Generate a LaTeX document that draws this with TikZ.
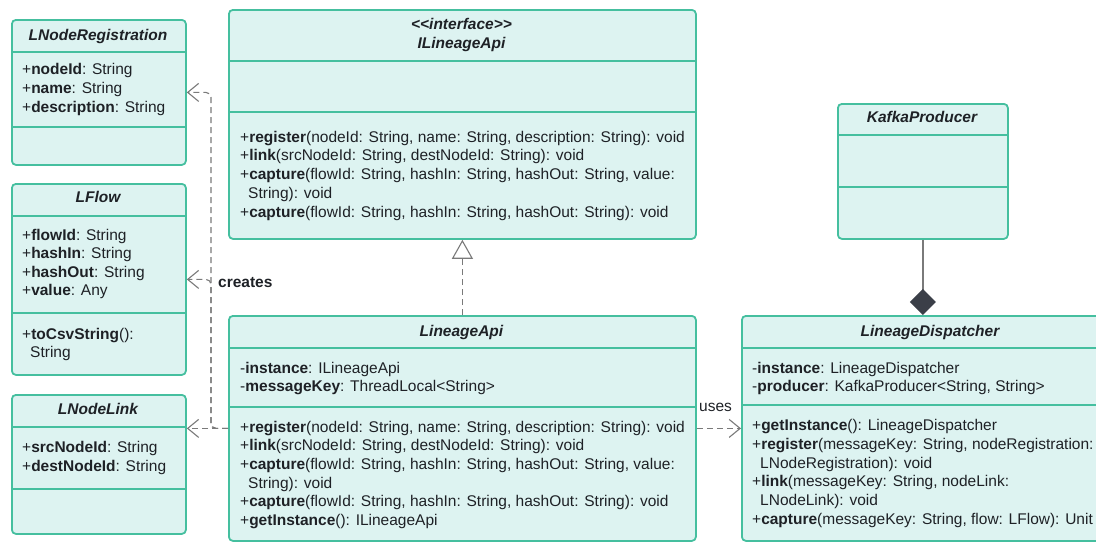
\documentclass[tikz,border=0pt]{standalone}
\usepackage{fontspec}
\setmainfont{Liberation Sans}
\usetikzlibrary{arrows.meta}
\definecolor{umlborder}{HTML}{45BF9F}
\definecolor{umlfill}{HTML}{DDF3F1}
\definecolor{ink}{HTML}{1E2126}
\definecolor{wire}{HTML}{7A7A7A}
\definecolor{knob}{HTML}{3B3F48}
\newcommand\mb[1]{\textbf{#1}}
\tikzset{
  classbox/.style={draw=umlborder, fill=umlfill, line width=1.8pt, rounded corners=4pt,
    inner sep=0pt, anchor=north west},
  divider/.style={draw=umlborder, line width=1.8pt},
  ctitle/.style={font=\fontsize{15.5}{18.7}\selectfont\bfseries\itshape, text=ink, anchor=base, inner sep=0pt},
  member/.style={text=ink, anchor=base west, inner sep=0pt},
  deparrow/.style={draw=wire, line width=1.1pt, dash pattern=on 6pt off 4pt,
    -{Straight Barb[length=11pt,width=18pt,line width=1.1pt]}},
  realarrow/.style={draw=wire, line width=1.1pt, dash pattern=on 6pt off 4pt,
    -{Triangle[length=19pt,width=21pt,fill=white,line width=1.1pt]}},
  comparrow/.style={draw=wire, line width=1.3pt,
    -{Diamond[length=26pt,width=26pt,fill=knob,color=knob]}},
  lbl/.style={text=ink, anchor=base, inner sep=0pt},
}
\begin{document}
\begin{tikzpicture}[x=1pt, y=-1pt, font=\fontsize{15.5}{18.7}\selectfont]
\useasboundingbox (0,0) rectangle (1096,542);

% ---------- LNodeRegistration ----------
\node[classbox, minimum width=174pt, minimum height=145pt] (reg) at (11,19) {};
\draw[divider] (11,52) -- (185,52);
\draw[divider] (11,127) -- (185,127);
\node[ctitle] (reg-t) at (98,40) {LNodeRegistration};
\node[member] (reg-a1) at (22,74) {+\mb{nodeId}: String};
\node[member] (reg-a2) at (22,93) {+\mb{name}: String};
\node[member] (reg-a3) at (22,112) {+\mb{description}: String};

% ---------- LFlow ----------
\node[classbox, minimum width=174pt, minimum height=191pt] (flow) at (11,183) {};
\draw[divider] (11,216) -- (185,216);
\draw[divider] (11,313) -- (185,313);
\node[ctitle] (flow-t) at (98,202) {LFlow};
\node[member] (flow-a1) at (22,240) {+\mb{flowId}: String};
\node[member] (flow-a2) at (22,258) {+\mb{hashIn}: String};
\node[member] (flow-a3) at (22,277) {+\mb{hashOut}: String};
\node[member] (flow-a4) at (22,295) {+\mb{value}: Any};
\node[member] (flow-m1) at (22,339) {+\mb{toCsvString}():};
\node[member] (flow-m2) at (30,357) {String};

% ---------- LNodeLink ----------
\node[classbox, minimum width=174pt, minimum height=139pt] (link) at (11,394) {};
\draw[divider] (11,427) -- (185,427);
\draw[divider] (11,489) -- (185,489);
\node[ctitle] (link-t) at (98,414) {LNodeLink};
\node[member] (link-a1) at (22,452) {+\mb{srcNodeId}: String};
\node[member] (link-a2) at (22,471) {+\mb{destNodeId}: String};

% ---------- ILineageApi ----------
\node[classbox, minimum width=467pt, minimum height=229pt] (ilapi) at (228,9) {};
\draw[divider] (228,61) -- (695,61);
\draw[divider] (228,112) -- (695,112);
\node[ctitle] (ilapi-s) at (461.5,29) {<{}<interface>{}>};
\node[ctitle] (ilapi-t) at (461.5,48) {ILineageApi};
\node[member] (ilapi-m1) at (240,142) {+\mb{register}(nodeId: String, name: String, description: String): void};
\node[member] (ilapi-m2) at (240,160) {+\mb{link}(srcNodeId: String, destNodeId: String): void};
\node[member] (ilapi-m3) at (240,179) {+\mb{capture}(flowId: String, hashIn: String, hashOut: String, value:};
\node[member] (ilapi-m4) at (248,198) {String): void};
\node[member] (ilapi-m5) at (240,217) {+\mb{capture}(flowId: String, hashIn: String, hashOut: String): void};

% ---------- LineageApi ----------
\node[classbox, minimum width=467pt, minimum height=225pt] (lapi) at (228,315) {};
\draw[divider] (228,348) -- (695,348);
\draw[divider] (228,407) -- (695,407);
\node[ctitle] (lapi-t) at (461.5,336) {LineageApi};
\node[member] (lapi-a1) at (240,373) {-\mb{instance}: ILineageApi};
\node[member] (lapi-a2) at (240,391) {-\mb{messageKey}: ThreadLocal<String>};
\node[member] (lapi-m1) at (240,432) {+\mb{register}(nodeId: String, name: String, description: String): void};
\node[member] (lapi-m2) at (240,450) {+\mb{link}(srcNodeId: String, destNodeId: String): void};
\node[member] (lapi-m3) at (240,469) {+\mb{capture}(flowId: String, hashIn: String, hashOut: String, value:};
\node[member] (lapi-m4) at (248,488) {String): void};
\node[member] (lapi-m5) at (240,506) {+\mb{capture}(flowId: String, hashIn: String, hashOut: String): void};
\node[member] (lapi-m6) at (240,525) {+\mb{getInstance}(): ILineageApi};

% ---------- KafkaProducer ----------
\node[classbox, minimum width=170pt, minimum height=135pt] (kafka) at (837,103) {};
\draw[divider] (837,135) -- (1007,135);
\draw[divider] (837,187) -- (1007,187);
\node[ctitle] (kafka-t) at (922,122) {KafkaProducer};

% ---------- LineageDispatcher ----------
\node[classbox, minimum width=378pt, minimum height=225pt] (disp) at (741,315) {};
\draw[divider] (741,348) -- (1119,348);
\draw[divider] (741,405) -- (1119,405);
\node[ctitle] (disp-t) at (930,336) {LineageDispatcher};
\node[member] (disp-a1) at (752,373) {-\mb{instance}: LineageDispatcher};
\node[member] (disp-a2) at (752,391) {-\mb{producer}: KafkaProducer<String, String>};
\node[member] (disp-m1) at (752,430) {+\mb{getInstance}(): LineageDispatcher};
\node[member] (disp-m2) at (752,449) {+\mb{register}(messageKey: String, nodeRegistration:};
\node[member] (disp-m3) at (760,468) {LNodeRegistration): void};
\node[member] (disp-m4) at (752,486) {+\mb{link}(messageKey: String, nodeLink:};
\node[member] (disp-m5) at (760,505) {LNodeLink): void};
\node[member] (disp-m6) at (752,524) {+\mb{capture}(messageKey: String, flow: LFlow): Unit};

% ---------- relations ----------
\coordinate (bus) at (211,0);
\draw[deparrow] (lapi.west) -- (lapi.west -| link.east);
\draw[deparrow, rounded corners=5pt] (lapi.west) -| (bus |- flow.east) -- (flow.east);
\draw[deparrow, rounded corners=5pt] (lapi.west) -| (bus |- reg.east) -- (reg.east);
\node[lbl, font=\fontsize{15.5}{18.7}\selectfont\bfseries, anchor=base west] (creates) at (218,287) {creates};

\draw[realarrow] (lapi.north) -- (ilapi.south);

\draw[comparrow] (kafka.south) -- (kafka.south |- disp.north);

\draw[deparrow] (lapi.east) -- (lapi.east -| disp.west);
\node[lbl, anchor=base west] (uses) at (699,411) {uses};
\end{tikzpicture}
\end{document}
